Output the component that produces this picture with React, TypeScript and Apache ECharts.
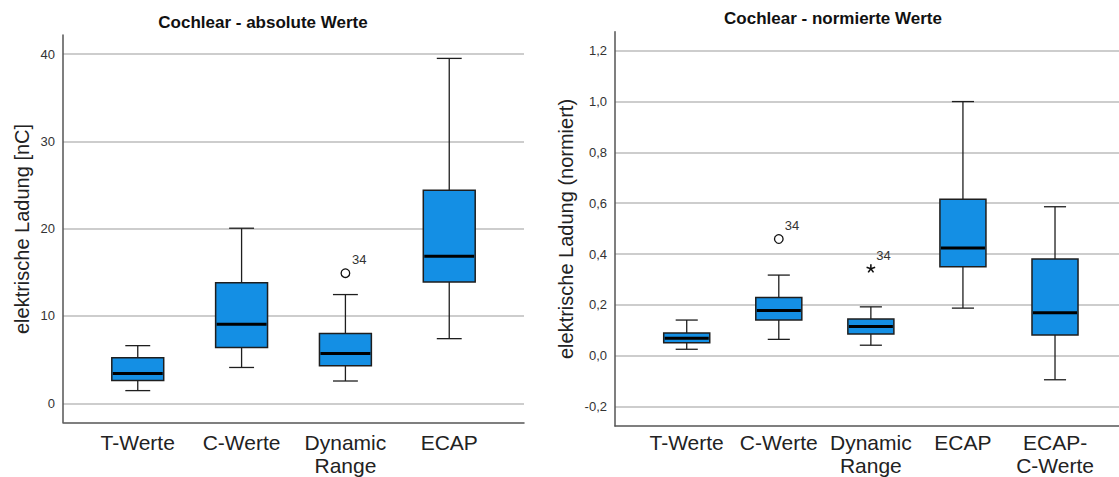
import React, { useEffect, useRef } from 'react';
import * as echarts from 'echarts';

// ---------- data ----------
const absCategories = ['T-Werte', 'C-Werte', 'Dynamic\nRange', 'ECAP'];
const absLow = [1.45, 4.1, 2.55, 7.4];
const absQ1 = [2.6, 6.4, 4.3, 13.9];
const absMedian = [3.4, 9.05, 5.7, 16.85];
const absQ3 = [5.2, 13.8, 8.0, 24.4];
const absHigh = [6.6, 20.05, 12.45, 39.5];
const absOutlierCat = [2];
const absOutlierVal = [14.9];
const absOutlierId = ['34'];

const normCategories = ['T-Werte', 'C-Werte', 'Dynamic\nRange', 'ECAP', 'ECAP-\nC-Werte'];
const normLow = [0.025, 0.064, 0.041, 0.187, -0.095];
const normQ1 = [0.051, 0.14, 0.085, 0.35, 0.081];
const normMedian = [0.068, 0.178, 0.115, 0.424, 0.169];
const normQ3 = [0.089, 0.229, 0.144, 0.616, 0.38];
const normHigh = [0.14, 0.317, 0.192, 1.0, 0.586];
const normOutlierCat = [1];
const normOutlierVal = [0.459];
const normOutlierId = ['34'];
const normExtremeCat = [2];
const normExtremeVal = [0.342];
const normExtremeId = ['34'];

// axis extents (value ranges of the plot frames)
const absYRange = [-2.18, 42.18];
const normYRange = [-0.277, 1.275];
const absXRange = [-0.72, 3.72];
const normXRange = [-0.779, 4.695];

// ---------- styling ----------
const FONT = '"Liberation Sans", Arial, Helvetica, sans-serif';
const BOX_FILL = '#148fe4';
const DARK = '#1e1e1e';
const GRID_COLOR = '#bdbdbd';
const AXIS_COLOR = '#555555';

function boxRows(low: number[], q1: number[], med: number[], q3: number[], high: number[]) {
  return low.map((_, i) => [i, low[i], q1[i], med[i], q3[i], high[i]]);
}

function renderBox(params: any, api: any) {
  const idx = api.value(0);
  const low = api.coord([idx, api.value(1)]);
  const q1 = api.coord([idx, api.value(2)]);
  const med = api.coord([idx, api.value(3)]);
  const q3 = api.coord([idx, api.value(4)]);
  const high = api.coord([idx, api.value(5)]);
  const band = api.size([1, 0])[0];
  const bw = band * 0.5;
  const cw = band * 0.24;
  const x = med[0];
  const wStyle = { stroke: DARK, lineWidth: 1.3 };
  return {
    type: 'group',
    children: [
      { type: 'line', shape: { x1: x, y1: q3[1], x2: x, y2: high[1] }, style: wStyle },
      { type: 'line', shape: { x1: x - cw / 2, y1: high[1], x2: x + cw / 2, y2: high[1] }, style: wStyle },
      { type: 'line', shape: { x1: x, y1: q1[1], x2: x, y2: low[1] }, style: wStyle },
      { type: 'line', shape: { x1: x - cw / 2, y1: low[1], x2: x + cw / 2, y2: low[1] }, style: wStyle },
      {
        type: 'rect',
        shape: { x: x - bw / 2, y: q3[1], width: bw, height: q1[1] - q3[1] },
        style: { fill: BOX_FILL, stroke: DARK, lineWidth: 1.5 },
      },
      {
        type: 'line',
        shape: { x1: x - bw / 2 + 1, y1: med[1], x2: x + bw / 2 - 1, y2: med[1] },
        style: { stroke: '#000', lineWidth: 3 },
      },
    ],
  };
}

function makeOutlierRenderer(ids: string[], kind: 'circle' | 'star', dx: number, dy: number) {
  return (params: any, api: any) => {
    const p = api.coord([api.value(0), api.value(1)]);
    const children: any[] = [];
    if (kind === 'circle') {
      children.push({
        type: 'circle',
        shape: { cx: p[0], cy: p[1], r: 4.3 },
        style: { fill: '#fff', stroke: '#111', lineWidth: 1.3 },
      });
    } else {
      const r = 4.5;
      for (let k = 0; k < 5; k++) {
        const a = -Math.PI / 2 + (k * 2 * Math.PI) / 5;
        children.push({
          type: 'line',
          shape: { x1: p[0], y1: p[1], x2: p[0] + r * Math.cos(a), y2: p[1] + r * Math.sin(a) },
          style: { stroke: '#111', lineWidth: 1.6 },
        });
      }
    }
    children.push({
      type: 'text',
      x: p[0] + dx,
      y: p[1] + dy,
      style: {
        text: ids[params.dataIndex],
        fill: '#333',
        font: '13px ' + FONT,
        align: 'left',
        verticalAlign: 'middle',
        textAlign: 'left',
        textVerticalAlign: 'middle',
      },
    });
    return { type: 'group', children };
  };
}

function isMultiple(v: number, step: number) {
  const r = v / step;
  return Math.abs(r - Math.round(r)) < 1e-6;
}

function visibleYAxis(gridIndex: number, range: number[], interval: number, fmt: (v: number) => string) {
  return {
    type: 'value',
    gridIndex,
    min: range[0],
    max: range[1],
    minInterval: interval,
    maxInterval: interval,
    axisLine: { show: true, onZero: false, lineStyle: { color: AXIS_COLOR, width: 1.5 } },
    axisTick: { show: false },
    axisLabel: {
      show: true,
      showMinLabel: false,
      showMaxLabel: false,
      margin: 8,
      color: '#333',
      fontSize: 13,
      fontFamily: FONT,
      formatter: (v: number) => (isMultiple(v, interval) ? fmt(v) : ''),
    },
    splitLine: {
      show: true,
      showMinLine: false,
      showMaxLine: false,
      lineStyle: { color: GRID_COLOR, width: 1.5 },
    },
  };
}

function hiddenYAxis(gridIndex: number, range: number[]) {
  return { type: 'value', gridIndex, min: range[0], max: range[1], show: false, splitLine: { show: false } };
}

function frameXAxis(gridIndex: number, range: number[]) {
  return {
    type: 'value',
    gridIndex,
    min: range[0],
    max: range[1],
    axisLine: { show: true, onZero: false, lineStyle: { color: AXIS_COLOR, width: 1.5 } },
    axisTick: { show: false },
    axisLabel: { show: false },
    splitLine: { show: false },
  };
}

function categoryXAxis(gridIndex: number, cats: string[]) {
  return {
    type: 'category',
    gridIndex,
    data: cats,
    axisLine: { show: false, onZero: false },
    axisTick: { show: false },
    splitLine: { show: false },
    axisLabel: {
      interval: 0,
      margin: 9,
      color: '#222',
      fontSize: 21,
      lineHeight: 23,
      fontFamily: FONT,
    },
  };
}

export default function App() {
  const ref = useRef<HTMLDivElement>(null);

  useEffect(() => {
    document.body.style.margin = '0';
    const chart = echarts.init(ref.current!, null, { renderer: 'svg' });
    const option: any = {
      animation: false,
      backgroundColor: '#fff',
      textStyle: { fontFamily: FONT },
      grid: [
        { left: 63, top: 35, width: 461, height: 387.3 },
        { left: 85.8, top: 35, width: 415.4, height: 387.3 },
        { left: 615, top: 31.7, width: 504, height: 394.3 },
        { left: 640.6, top: 31.7, width: 460.5, height: 394.3 },
      ],
      xAxis: [
        frameXAxis(0, absXRange),
        categoryXAxis(1, absCategories),
        frameXAxis(2, normXRange),
        categoryXAxis(3, normCategories),
      ],
      yAxis: [
        visibleYAxis(0, absYRange, 10, (v) => String(v)),
        hiddenYAxis(1, absYRange),
        visibleYAxis(2, normYRange, 0.2, (v) => v.toFixed(1).replace('.', ',')),
        hiddenYAxis(3, normYRange),
      ],
      series: [
        {
          type: 'custom',
          xAxisIndex: 0,
          yAxisIndex: 0,
          data: boxRows(absLow, absQ1, absMedian, absQ3, absHigh),
          encode: { x: 0, y: [1, 2, 3, 4, 5] },
          renderItem: renderBox,
        },
        {
          type: 'custom',
          xAxisIndex: 0,
          yAxisIndex: 0,
          data: absOutlierCat.map((c, i) => [c, absOutlierVal[i]]),
          encode: { x: 0, y: 1 },
          renderItem: makeOutlierRenderer(absOutlierId, 'circle', 6.5, -14),
        },
        {
          type: 'custom',
          xAxisIndex: 2,
          yAxisIndex: 2,
          data: boxRows(normLow, normQ1, normMedian, normQ3, normHigh),
          encode: { x: 0, y: [1, 2, 3, 4, 5] },
          renderItem: renderBox,
        },
        {
          type: 'custom',
          xAxisIndex: 2,
          yAxisIndex: 2,
          data: normOutlierCat.map((c, i) => [c, normOutlierVal[i]]),
          encode: { x: 0, y: 1 },
          renderItem: makeOutlierRenderer(normOutlierId, 'circle', 6, -13.5),
        },
        {
          type: 'custom',
          xAxisIndex: 2,
          yAxisIndex: 2,
          data: normExtremeCat.map((c, i) => [c, normExtremeVal[i]]),
          encode: { x: 0, y: 1 },
          renderItem: makeOutlierRenderer(normExtremeId, 'star', 5.5, -13),
        },
      ],
      graphic: [
        {
          type: 'text',
          x: 263,
          y: 22,
          style: {
            text: 'Cochlear - absolute Werte',
            font: 'bold 17px ' + FONT,
            fill: '#111',
            align: 'center',
            verticalAlign: 'middle',
            textAlign: 'center',
            textVerticalAlign: 'middle',
          },
        },
        {
          type: 'text',
          x: 833,
          y: 18,
          style: {
            text: 'Cochlear - normierte Werte',
            font: 'bold 17px ' + FONT,
            fill: '#111',
            align: 'center',
            verticalAlign: 'middle',
            textAlign: 'center',
            textVerticalAlign: 'middle',
          },
        },
        {
          type: 'text',
          x: 22,
          y: 229,
          rotation: Math.PI / 2,
          style: {
            text: 'elektrische Ladung [nC]',
            font: '20px ' + FONT,
            fill: '#222',
            align: 'center',
            verticalAlign: 'middle',
            textAlign: 'center',
            textVerticalAlign: 'middle',
          },
        },
        {
          type: 'text',
          x: 566,
          y: 229,
          rotation: Math.PI / 2,
          style: {
            text: 'elektrische Ladung (normiert)',
            font: '20px ' + FONT,
            fill: '#222',
            align: 'center',
            verticalAlign: 'middle',
            textAlign: 'center',
            textVerticalAlign: 'middle',
          },
        },
      ],
    };
    chart.setOption(option);
    return () => chart.dispose();
  }, []);

  return <div ref={ref} style={{ width: 1119, height: 477 }} />;
}
